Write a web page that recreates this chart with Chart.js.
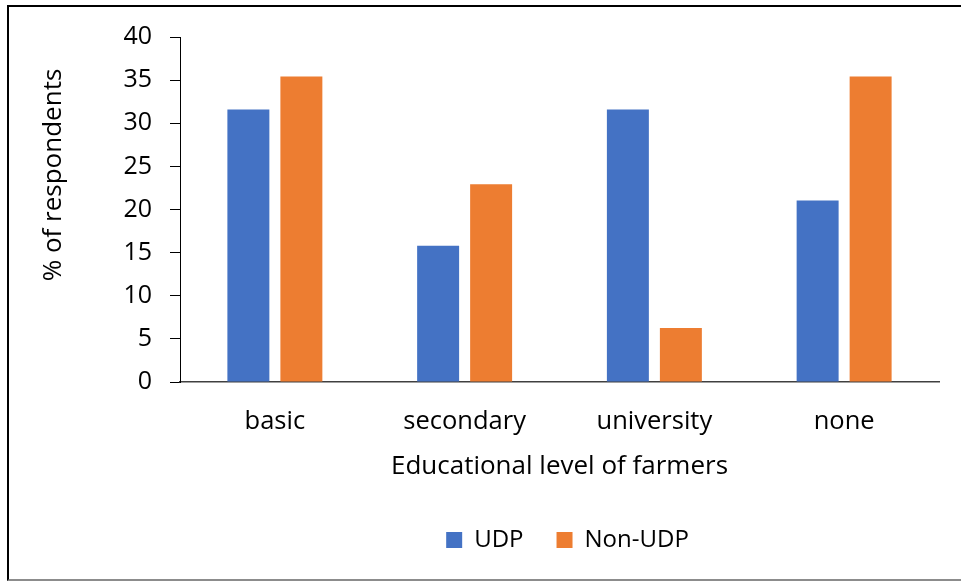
<!DOCTYPE html>
<html>
<head>
<meta charset="utf-8">
<script src="https://cdn.jsdelivr.net/npm/chart.js@4/dist/chart.umd.min.js"></script>
<style>
    html, body { margin: 0; padding: 0; background: #fff; overflow: hidden; }
    #wrap { position: relative; width: 961px; height: 581px; }
    #frame {
        position: absolute; left: 7px; top: 5px; width: 970px; height: 572px;
        border-top: 2px solid #000; border-left: 2px solid #000; border-bottom: 2px solid #8c8c8c;
        pointer-events: none;
    }
</style>
</head>
<body>
<div id="wrap">
    <canvas id="edu-chart" width="961" height="581"></canvas>
    <div id="frame"></div>
</div>
<script>
var categories = ['basic', 'secondary', 'university', 'none'];
var udpValues = [31.58, 15.79, 31.58, 21.05];
var nonUdpValues = [35.42, 22.92, 6.25, 35.42];
var yTicks = [0, 5, 10, 15, 20, 25, 30, 35, 40];
var yTitle = '% of respondents';
var xTitle = 'Educational level of farmers';

var family = "'Open Sans', sans-serif";

// y title sits above the middle of the axis, so it is drawn by hand
var yTitlePlugin = {
    id: 'yTitle',
    afterDraw: function(chart) {
        var c = chart.ctx;
        c.save();
        c.translate(54, 175);
        c.rotate(-Math.PI / 2);
        c.font = '26px ' + family;
        c.fillStyle = '#000';
        c.textAlign = 'center';
        c.textBaseline = 'middle';
        c.fillText(yTitle, 0, 0);
        c.restore();
    }
};

// legend: fixed height, moved right a little
var legendPlugin = {
    id: 'legendPlace',
    beforeInit: function(chart) {
        var fit = chart.legend.fit;
        chart.legend.fit = function() {
            fit.call(this);
            this.height = 86;
        };
    },
    afterLayout: function(chart) {
        chart.legend.left += 83;
        chart.legend.right += 83;
    }
};

var ctx = document.getElementById('edu-chart').getContext('2d');

new Chart(ctx, {
    type: 'bar',
    data: {
        labels: categories,
        datasets: [{
            label: 'UDP',
            data: udpValues,
            backgroundColor: '#4472C4'
        }, {
            label: 'Non-UDP',
            data: nonUdpValues,
            backgroundColor: '#ED7D31'
        }]
    },
    options: {
        responsive: false,
        animation: false,
        devicePixelRatio: 1,
        categoryPercentage: 0.5586,
        barPercentage: 0.792,
        layout: {
            padding: { left: 30, right: 22, top: 37, bottom: 0 }
        },
        plugins: {
            tooltip: { enabled: false },
            legend: {
                position: 'bottom',
                labels: {
                    font: { family: family, size: 24 },
                    color: '#000',
                    boxWidth: 16,
                    boxHeight: 16,
                    padding: 33
                }
            }
        },
        scales: {
            x: {
                grid: { display: true, drawOnChartArea: false, drawTicks: false },
                border: { color: '#404040', width: 1.5 },
                ticks: { font: { family: family, size: 25.5 }, color: '#000', padding: 24 },
                title: {
                    display: true,
                    text: xTitle,
                    font: { family: family, size: 26 },
                    color: '#000',
                    padding: { top: 0, bottom: 13 }
                },
                afterFit: function(scale) {
                    scale.height = 113;
                }
            },
            y: {
                min: 0,
                max: 40,
                afterBuildTicks: function(scale) {
                    scale.ticks = yTicks.map(function(v) { return { value: v }; });
                },
                grid: { drawOnChartArea: false, tickLength: 10, color: '#000' },
                border: { color: '#000', width: 1 },
                ticks: { font: { family: family, size: 25 }, color: '#000', padding: 18 },
                afterFit: function(scale) {
                    scale.width = 150;
                }
            }
        }
    },
    plugins: [yTitlePlugin, legendPlugin]
});
</script>
</body>
</html>
